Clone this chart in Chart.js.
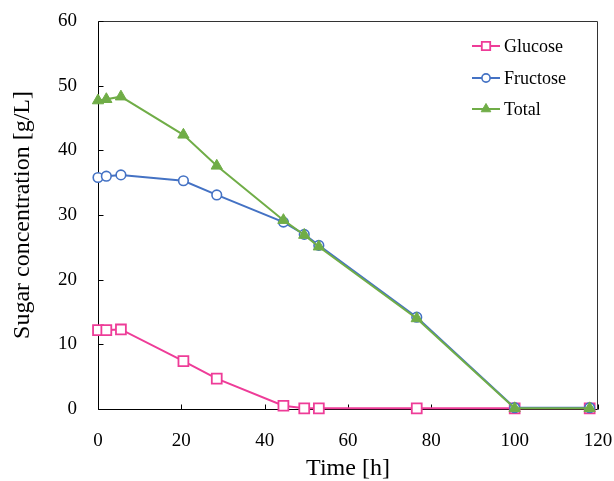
<!DOCTYPE html>
<html><head><meta charset="utf-8">
<script src="https://cdn.jsdelivr.net/npm/chart.js@4"></script>
<style>html,body{margin:0;padding:0;background:#fff}#wrap{width:614px;height:481px}</style>
</head><body><div id="wrap"><canvas id="c" width="614" height="481"></canvas></div>
<script>
const timeH    = [0, 2, 5.5, 20.5, 28.5, 44.5, 49.5, 53, 76.5, 100, 118];
const glucose  = [12.2, 12.2, 12.3, 7.4, 4.7, 0.5, 0.1, 0.1, 0.1, 0.1, 0.1];
const fructose = [35.8, 36.0, 36.2, 35.3, 33.1, 28.9, 27.0, 25.3, 14.2, 0.2, 0.2];
const total    = [47.7, 47.9, 48.3, 42.4, 37.6, 29.2, 26.9, 25.1, 14.0, 0.1, 0.1];
const seriesNames = ['Glucose', 'Fructose', 'Total'];
const xTitle = 'Time [h]';
const yTitle = 'Sugar concentration [g/L]';

const FONT = "'Liberation Serif', 'Times New Roman', serif";
const toPts = (ys) => timeH.map((t, i) => ({x: t, y: ys[i]}));

const frameTicks = {
  id: 'frameTicks',
  beforeDatasetsDraw(chart) {
    const {ctx, chartArea: a, scales} = chart;
    const L = Math.round(a.left) + 0.5, R = Math.round(a.right) - 0.5;
    const T = Math.round(a.top) + 0.5, B = Math.round(a.bottom) + 0.5;
    ctx.save();
    ctx.lineWidth = 1;
    ctx.strokeStyle = '#333';
    ctx.beginPath();
    ctx.moveTo(L, T); ctx.lineTo(R, T); ctx.lineTo(R, B);
    ctx.stroke();
    ctx.strokeStyle = '#000';
    ctx.beginPath();
    ctx.moveTo(L, T); ctx.lineTo(L, B); ctx.lineTo(R, B);
    scales.y.ticks.forEach(t => {
      const p = Math.round(scales.y.getPixelForValue(t.value)) + 0.5;
      ctx.moveTo(L, p); ctx.lineTo(L + 5, p);
    });
    scales.x.ticks.forEach(t => {
      const p = Math.round(scales.x.getPixelForValue(t.value)) + 0.5;
      ctx.moveTo(p, B); ctx.lineTo(p, B - 5);
    });
    ctx.stroke();
    ctx.restore();
  }
};

const legendPlugin = {
  id: 'customLegend',
  afterDatasetsDraw(chart) {
    const {ctx} = chart;
    const order = [0, 1, 2];
    const ys = [46, 78, 109];
    ctx.save();
    order.forEach((di, k) => {
      const ds = chart.data.datasets[di];
      const y = ys[k];
      ctx.strokeStyle = ds.borderColor;
      ctx.lineWidth = 2;
      ctx.beginPath(); ctx.moveTo(472, y); ctx.lineTo(500, y); ctx.stroke();
      ctx.fillStyle = ds.pointBackgroundColor;
      ctx.strokeStyle = ds.pointBorderColor;
      ctx.lineWidth = ds.pointBorderWidth;
      Chart.helpers.drawPoint(ctx, {pointStyle: ds.pointStyle, radius: ds.pointRadius * 0.85, rotation: 0, borderWidth: ds.pointBorderWidth}, 486, y);
      ctx.fillStyle = '#000';
      ctx.font = "18px " + FONT;
      ctx.textBaseline = 'middle';
      ctx.textAlign = 'left';
      ctx.fillText(ds.label, 504, y + 1);
    });
    ctx.restore();
  }
};

const PINK = '#EE3C98', BLUE = '#4472C4', GREEN = '#70AD47';

new Chart(document.getElementById('c'), {
  type: 'line',
  data: {
    datasets: [
      {label: seriesNames[0], data: toPts(glucose), borderColor: PINK, borderWidth: 2,
       pointStyle: 'rect', pointRadius: 7, pointBackgroundColor: '#fff', pointBorderColor: PINK, pointBorderWidth: 1.8, order: 2, clip: false},
      {label: seriesNames[1], data: toPts(fructose), borderColor: BLUE, borderWidth: 2,
       pointStyle: 'circle', pointRadius: 4.8, pointBackgroundColor: '#fff', pointBorderColor: BLUE, pointBorderWidth: 1.6, order: 1, clip: false},
      {label: seriesNames[2], data: toPts(total), borderColor: GREEN, borderWidth: 2,
       pointStyle: 'triangle', pointRadius: 6.5, pointBackgroundColor: GREEN, pointBorderColor: GREEN, pointBorderWidth: 1, order: 0, clip: false}
    ]
  },
  options: {
    responsive: false,
    animation: false,
    devicePixelRatio: 1,
    layout: {padding: {left: 0, right: 16, top: 21, bottom: 0}},
    plugins: {legend: {display: false}, tooltip: {enabled: false}},
    elements: {line: {tension: 0}},
    scales: {
      x: {
        type: 'linear', min: 0, max: 120,
        grid: {display: false}, border: {display: false},
        ticks: {stepSize: 20, color: '#000', font: {family: FONT, size: 19}, padding: 13, maxRotation: 0},
        title: {display: true, text: xTitle, color: '#000', font: {family: FONT, size: 24}, padding: {top: 0, bottom: -2}},
        afterFit: (s) => { s.height = 72; s.paddingLeft = 0; s.paddingRight = 0; }
      },
      y: {
        min: 0, max: 60,
        grid: {display: false}, border: {display: false},
        ticks: {stepSize: 10, color: '#000', font: {family: FONT, size: 19}, padding: 13},
        title: {display: true, text: yTitle, color: '#000', font: {family: FONT, size: 24}, padding: {top: 8, bottom: 0}},
        afterFit: (s) => { s.width = 98; s.paddingTop = 0; s.paddingBottom = 0; }
      }
    }
  },
  plugins: [frameTicks, legendPlugin]
});
</script>
</body></html>
